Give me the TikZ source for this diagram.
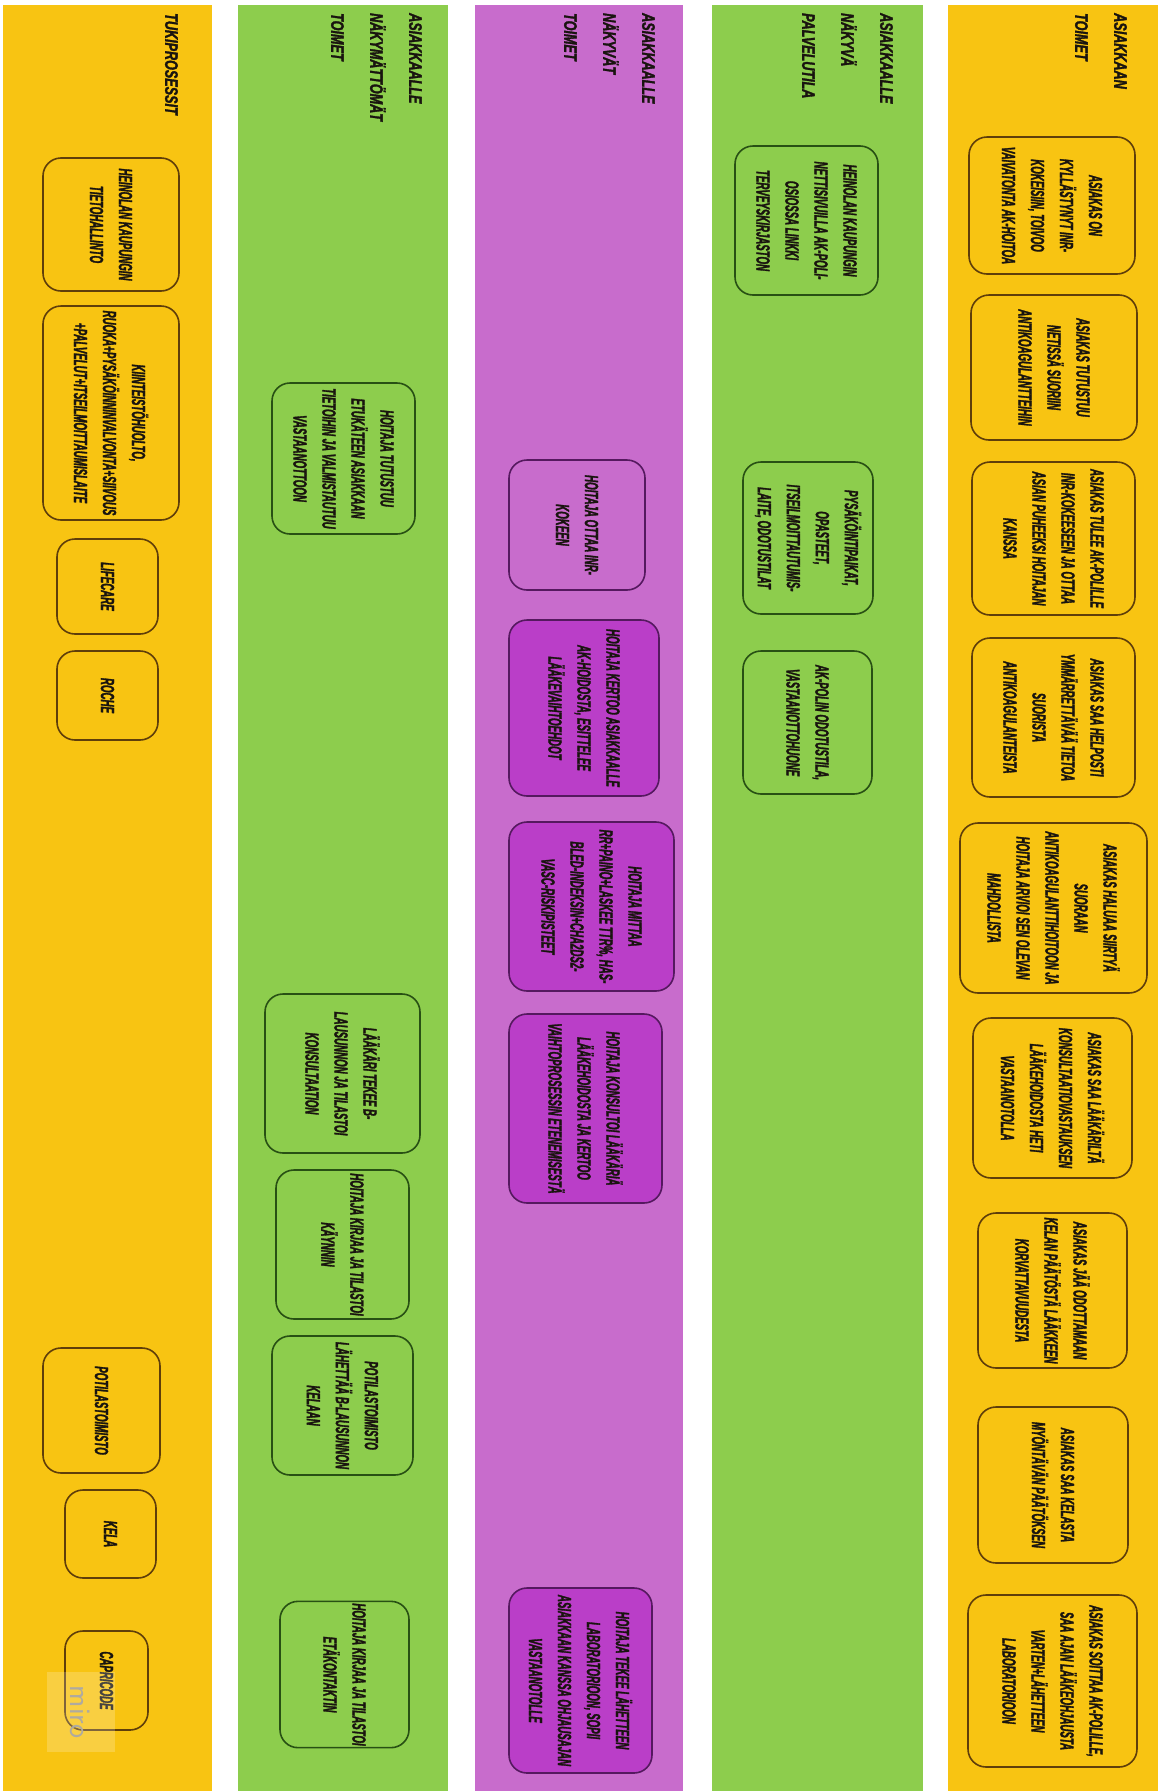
\documentclass[tikz,border=0pt]{standalone}
\usepackage{fontspec}
\newfontfamily\boxfont[FakeStretch=0.51,FakeBold=1.6]{Liberation Sans}
\newfontfamily\headfont[FakeStretch=0.70,FakeBold=1.8]{Liberation Sans}
\definecolor{laneor}{RGB}{248,196,18}
\definecolor{lanegr}{RGB}{141,205,77}
\definecolor{lanepu}{RGB}{200,108,204}
\definecolor{pufill}{RGB}{186,62,200}
\definecolor{orbrd}{RGB}{95,62,10}
\definecolor{grbrd}{RGB}{40,80,20}
\definecolor{pubrd}{RGB}{85,25,95}
\definecolor{txt}{RGB}{25,20,15}
\definecolor{wmgray}{RGB}{175,170,160}
\tikzset{
  bx/.style={draw=#1, line width=1.6pt, rounded corners=18pt, rotate=-90,
    align=center, inner sep=2pt, text=txt,
    font=\boxfont\bfseries\itshape\fontsize{19}{29}\selectfont},
  hd/.style={rotate=-90, anchor=north west, align=left, inner sep=0pt, text=txt,
    font=\headfont\bfseries\itshape\fontsize{18}{39}\selectfont},
}
\begin{document}
\begin{tikzpicture}[x=1pt,y=-1pt]
\useasboundingbox (0,0) rectangle (1166,1791);
\fill[white] (0,0) rectangle (1166,1791);
% lanes
\fill[laneor] (3,5) rectangle (212,1791);
\fill[lanegr] (238,5) rectangle (448,1791);
\fill[lanepu] (475,5) rectangle (683,1791);
\fill[lanegr] (712,5) rectangle (923,1791);
\fill[laneor] (948,5) rectangle (1158,1791);
% headers
\node[hd] (h1) at (1127,13) {ASIAKKAAN\\TOIMET};
\node[hd] (h2) at (893,13) {ASIAKKAALLE\\NÄKYVÄ\\PALVELUTILA};
\node[hd] (h3) at (655,13) {ASIAKKAALLE\\NÄKYVÄT\\TOIMET};
\node[hd] (h4) at (422,13) {ASIAKKAALLE\\NÄKYMÄTTÖMÄT\\TOIMET};
\node[hd] (h5) at (178,13) {TUKIPROSESSIT};
% lane 1
\node[bx=orbrd, minimum width=137, minimum height=166] (a1) at (1052,205.5) {ASIAKAS ON\\KYLLÄSTYNYT INR-\\KOKEISIIN, TOIVOO\\VAIVATONTA AK-HOITOA};
\node[bx=orbrd, minimum width=145, minimum height=166] (a2) at (1054,367.5) {ASIAKAS TUTUSTUU\\NETISSÄ SUORIIN\\ANTIKOAGULANTTEIHIN};
\node[bx=orbrd, minimum width=153, minimum height=163] (a3) at (1053.5,538.5) {ASIAKAS TULEE AK-POLILLE\\INR-KOKEESEEN JA OTTAA\\ASIAN PUHEEKSI HOITAJAN\\KANSSA};
\node[bx=orbrd, minimum width=159, minimum height=163] (a4) at (1053.5,717.5) {ASIAKAS SAA HELPOSTI\\YMMÄRRETTÄVÄÄ TIETOA\\SUORISTA\\ANTIKOAGULANTEISTA};
\node[bx=orbrd, minimum width=170, minimum height=187] (a5) at (1053.5,908) {ASIAKAS HALUAA SIIRTYÄ\\SUORAAN\\ANTIKOAGULANTTIHOITOON JA\\HOITAJA ARVIOI SEN OLEVAN\\MAHDOLLISTA};
\node[bx=orbrd, minimum width=160, minimum height=159] (a6) at (1052.5,1098) {ASIAKAS SAA LÄÄKÄRILTÄ\\KONSULTAATIOVASTAUKSEN\\LÄÄKEHOIDOSTA HETI\\VASTAANOTOLLA};
\node[bx=orbrd, minimum width=155, minimum height=149] (a7) at (1052.5,1290.5) {ASIAKAS JÄÄ ODOTTAMAAN\\KELAN PÄÄTÖSTÄ LÄÄKKEEN\\KORVATTAVUUDESTA};
\node[bx=orbrd, minimum width=156, minimum height=150] (a8) at (1053,1485) {ASIAKAS SAA KELASTA\\MYÖNTÄVÄN PÄÄTÖKSEN};
\node[bx=orbrd, minimum width=172, minimum height=169] (a9) at (1052.5,1681) {ASIAKAS SOITTAA AK-POLILLE,\\SAA AJAN LÄÄKEOHJAUSTA\\VARTEN+LÄHETTEEN\\LABORATORIOON};
% lane 2
\node[bx=grbrd, minimum width=149, minimum height=143] (b1) at (806.5,220.5) {HEINOLAN KAUPUNGIN\\NETTISIVUILLA AK-POLI-\\OSIOSSA LINKKI\\TERVEYSKIRJASTON};
\node[bx=grbrd, minimum width=152, minimum height=130] (b2) at (808,538) {PYSÄKÖINTIPAIKAT,\\OPASTEET,\\ITSEILMOITTAUTUMIS-\\LAITE, ODOTUSTILAT};
\node[bx=grbrd, minimum width=143, minimum height=129] (b3) at (807.5,722.5) {AK-POLIN ODOTUSTILA,\\VASTAANOTTOHUONE};
% lane 3
\node[bx=pubrd, minimum width=130, minimum height=136] (c1) at (577,525) {HOITAJA OTTAA INR-\\KOKEEN};
\node[bx=pubrd, fill=pufill, minimum width=176, minimum height=150] (c2) at (584,708) {HOITAJA KERTOO ASIAKKAALLE\\AK-HOIDOSTA, ESITTELEE\\LÄÄKEVAIHTOEHDOT};
\node[bx=pubrd, fill=pufill, minimum width=169, minimum height=165] (c3) at (591.5,906.5) {HOITAJA MITTAA\\RR+PAINO+LASKEE TTR\%, HAS-\\BLED-INDEKSIN+CHA2DS2-\\VASC-RISKIPISTEET};
\node[bx=pubrd, fill=pufill, minimum width=189, minimum height=153] (c4) at (585.5,1108.5) {HOITAJA KONSULTOI LÄÄKÄRIÄ\\LÄÄKEHOIDOSTA JA KERTOO\\VAIHTOPROSESSIN ETENEMISESTÄ};
\node[bx=pubrd, fill=pufill, minimum width=185, minimum height=143] (c5) at (580.5,1680.5) {HOITAJA TEKEE LÄHETTEEN\\LABORATORIOON, SOPII\\ASIAKKAAN KANSSA OHJAUSAJAN\\VASTAANOTOLLE};
% lane 4
\node[bx=grbrd, minimum width=151, minimum height=143] (d1) at (343.5,458.5) {HOITAJA TUTUSTUU\\ETUKÄTEEN ASIAKKAAN\\TIETOIHIN JA VALMISTAUTUU\\VASTAANOTTOON};
\node[bx=grbrd, minimum width=159, minimum height=155] (d2) at (342.5,1073.5) {LÄÄKÄRI TEKEE B-\\LAUSUNNON JA TILASTOI\\KONSULTAATION};
\node[bx=grbrd, minimum width=149, minimum height=133] (d3) at (342.5,1244.5) {HOITAJA KIRJAA JA TILASTOI\\KÄYNNIN};
\node[bx=grbrd, minimum width=139, minimum height=141] (d4) at (342.5,1405.5) {POTILASTOIMISTO\\LÄHETTÄÄ B-LAUSUNNON\\KELAAN};
\node[bx=grbrd, minimum width=145, minimum height=129] (d5) at (344.5,1674.5) {HOITAJA KIRJAA JA TILASTOI\\ETÄKONTAKTIN};
% lane 5
\node[bx=orbrd, minimum width=133, minimum height=136] (e1) at (111,224.5) {HEINOLAN KAUPUNGIN\\TIETOHALLINTO};
\node[bx=orbrd, minimum width=214, minimum height=136] (e2) at (111,413) {KIINTEISTÖHUOLTO,\\RUOKA+PYSÄKÖINNINVALVONTA+SIIVOUS\\+PALVELUT+ITSEILMOITTAUMISLAITE};
\node[bx=orbrd, minimum width=95, minimum height=101] (e3) at (107.5,586.5) {LIFECARE};
\node[bx=orbrd, minimum width=89, minimum height=101] (e4) at (107.5,695.5) {ROCHE};
\node[bx=orbrd, minimum width=125, minimum height=117] (e5) at (101.5,1410.5) {POTILASTOIMISTO};
\node[bx=orbrd, minimum width=88, minimum height=91] (e6) at (110.5,1534) {KELA};
\node[bx=orbrd, minimum width=99, minimum height=83] (e7) at (106.5,1680.5) {CAPRICODE};
% watermark
\fill[white, opacity=0.2] (47,1672) rectangle (115,1752);
\node[rotate=-90, text=wmgray, inner sep=0pt, font=\fontsize{30}{30}\selectfont\sffamily] (miro) at (80,1712) {miro};
\end{tikzpicture}
\end{document}
